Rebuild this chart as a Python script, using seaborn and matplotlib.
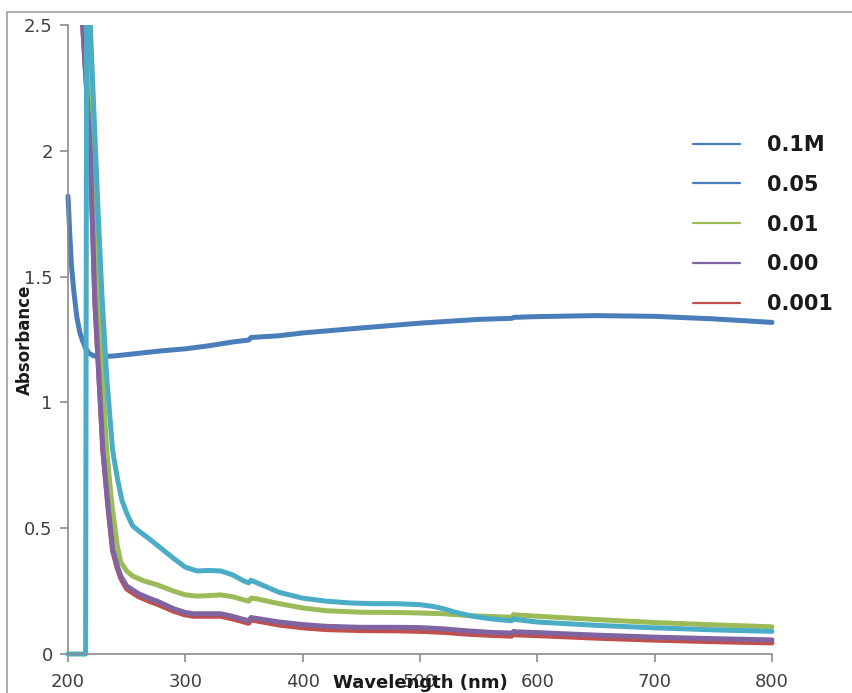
import matplotlib
matplotlib.use("Agg")
import matplotlib.pyplot as plt
import seaborn as sns
from matplotlib.lines import Line2D
from matplotlib.patches import Rectangle
from matplotlib.transforms import Bbox, TransformedBbox

# ---------------- data ----------------
wl_01 = [200, 201.5, 203, 205, 207.5, 210, 212, 215, 218, 222, 230, 240, 260, 280, 300,
         320, 340, 354, 356, 380, 400, 450, 500, 550, 578, 580, 600, 650, 700, 750, 800]
abs_01 = [1.82, 1.67, 1.54, 1.44, 1.34, 1.28, 1.25, 1.215, 1.195, 1.185, 1.182, 1.185, 1.195,
          1.205, 1.213, 1.225, 1.24, 1.248, 1.258, 1.265, 1.276, 1.296, 1.315, 1.33, 1.334,
          1.338, 1.341, 1.345, 1.342, 1.332, 1.318]

wl_005 = [200, 215, 216, 219, 223, 226, 229, 233, 238, 242, 246, 250, 255, 260, 270, 278, 290,
          300, 310, 320, 330, 340, 350, 354, 356, 360, 380, 400, 420, 440, 460, 480, 500, 510,
          520, 530, 545, 560, 578, 580, 582, 600, 650, 700, 750, 800]
abs_005 = [0, 0, 2.85, 2.5, 2.05, 1.72, 1.42, 1.1, 0.81, 0.7, 0.61, 0.56, 0.51, 0.49, 0.455,
           0.425, 0.38, 0.345, 0.33, 0.332, 0.33, 0.315, 0.29, 0.283, 0.293, 0.285, 0.245,
           0.222, 0.21, 0.203, 0.2, 0.2, 0.196, 0.19, 0.18, 0.166, 0.15, 0.14, 0.132, 0.14,
           0.137, 0.127, 0.114, 0.104, 0.096, 0.09]

wl_0001 = [214, 218, 221.7, 226, 229.5, 233, 237, 240, 242, 245, 250, 255, 265, 276, 290, 300,
           310, 320, 330, 340, 350, 354, 356, 360, 380, 400, 420, 450, 480, 500, 520, 540, 560,
           578, 580, 582, 600, 650, 700, 750, 800]
abs_0001 = [3.05, 2.5, 2.0, 1.41, 1.08, 0.81, 0.61, 0.5, 0.43, 0.365, 0.33, 0.31, 0.29, 0.275,
            0.25, 0.235, 0.23, 0.232, 0.235, 0.228, 0.215, 0.21, 0.222, 0.22, 0.2, 0.183, 0.172,
            0.166, 0.165, 0.163, 0.16, 0.153, 0.149, 0.146, 0.157, 0.155, 0.15, 0.137, 0.125,
            0.116, 0.108]

wl_000 = [208, 212.5, 219, 222.8, 229.7, 233.7, 235.7, 238, 242, 245, 250, 260, 270, 276, 290,
          300, 307, 320, 330, 340, 350, 354, 356, 360, 380, 400, 420, 450, 480, 500, 520, 540,
          560, 578, 580, 582, 600, 650, 700, 750, 800]
abs_000 = [2.85, 2.5, 2.0, 1.41, 0.81, 0.61, 0.52, 0.42, 0.35, 0.31, 0.27, 0.24, 0.22, 0.21,
           0.18, 0.165, 0.16, 0.16, 0.16, 0.15, 0.137, 0.132, 0.145, 0.142, 0.127, 0.117, 0.11,
           0.106, 0.106, 0.105, 0.1, 0.092, 0.086, 0.083, 0.09, 0.088, 0.085, 0.075, 0.067,
           0.061, 0.056]

wl_001m = [208, 212.5, 219, 222.8, 229.7, 233.7, 235.7, 238, 242, 245, 250, 260, 270, 276, 290,
           300, 307, 320, 330, 340, 350, 354, 356, 360, 380, 400, 420, 450, 480, 500, 520, 540,
           560, 578, 580, 582, 600, 650, 700, 750, 800]
abs_001m = [2.85, 2.5, 2.0, 1.41, 0.81, 0.6, 0.51, 0.41, 0.34, 0.3, 0.258, 0.228, 0.208, 0.198,
            0.17, 0.155, 0.15, 0.15, 0.15, 0.14, 0.127, 0.122, 0.135, 0.132, 0.115, 0.104, 0.097,
            0.093, 0.092, 0.09, 0.086, 0.079, 0.074, 0.071, 0.078, 0.076, 0.073, 0.063, 0.055,
            0.049, 0.044]

legend_labels = ["0.1M", "0.05", "0.01", "0.00", "0.001"]
xticks = [200, 300, 400, 500, 600, 700, 800]
xtick_labels = ["200", "300", "400", "500", "600", "700", "800"]
yticks = [0, 0.5, 1, 1.5, 2, 2.5]
ytick_labels = ["0", "0.5", "1", "1.5", "2", "2.5"]

# colours
c_blue = "#4A7EBB"
c_aqua = "#4BACC6"
c_green = "#9BBB59"
c_purple = "#8064A2"
c_red = "#C0504D"

# ---------------- figure ----------------
sns.set_theme(style="ticks")
plt.rcParams["font.family"] = ["DejaVu Sans"]

W, H = 853, 693
fig = plt.figure(figsize=(W / 100, H / 100), dpi=100)
ax = fig.add_axes([68 / W, 1 - 654 / H, (772 - 68) / W, (654 - 25) / H])

series = [
    (wl_01, abs_01, c_blue),
    (wl_001m, abs_001m, c_red),
    (wl_0001, abs_0001, c_green),
    (wl_000, abs_000, c_purple),
    (wl_005, abs_005, c_aqua),
]
clip = TransformedBbox(Bbox([[-0.01, -0.02], [1.01, 1.0]]), ax.transAxes)
for x, y, c in series:
    n_before = len(ax.lines)
    sns.lineplot(x=x, y=y, color=c, linewidth=3.6, ax=ax, estimator=None,
                 sort=False, legend=False)
    for ln in ax.lines[n_before:]:
        ln.set_clip_box(clip)
        ln.set_solid_joinstyle("round")

ax.set_xlim(200, 800)
ax.set_ylim(0, 2.5)
ax.set_xticks(xticks)
ax.set_xticklabels(xtick_labels)
ax.set_yticks(yticks)
ax.set_yticklabels(ytick_labels)
ax.set_xlabel("")
ax.set_ylabel("")

for side in ["top", "right"]:
    ax.spines[side].set_visible(False)
for side in ["left", "bottom"]:
    ax.spines[side].set_color("#8c8c8c")
    ax.spines[side].set_linewidth(1.2)

ax.tick_params(axis="both", direction="out", length=6, width=1.2, color="#8c8c8c",
               labelsize=13, labelcolor="#404040")
ax.tick_params(axis="y", pad=5)
ax.tick_params(axis="x", pad=8)

fig.text(420 / W, 1 - 683 / H, "Wavelength (nm)", ha="center", va="center",
         fontsize=13, fontweight="bold", color="#1a1a1a")
fig.text(25 / W, 1 - 340 / H, "Absorbance", ha="center", va="center", rotation=90,
         fontsize=12, fontweight="bold", color="#1a1a1a")

handles = [
    Line2D([], [], color=c_blue, lw=1.6),
    Line2D([], [], color=c_blue, lw=1.6),
    Line2D([], [], color=c_green, lw=1.6),
    Line2D([], [], color=c_purple, lw=1.6),
    Line2D([], [], color=c_red, lw=1.6),
]
leg = ax.legend(handles, legend_labels, loc="upper left",
                bbox_to_anchor=(693 / W, 1 - 135 / H), bbox_transform=fig.transFigure,
                frameon=False, borderpad=0, borderaxespad=0, handlelength=2.26,
                handletextpad=1.3, labelspacing=0.95,
                prop={"size": 15, "weight": "bold"})
for t in leg.get_texts():
    t.set_color("#1a1a1a")

# outer chart frame (only top/left edges fall inside the image)
fig.add_artist(Rectangle((7 / W, -0.1), 1.2, 1.1 - 12 / H, transform=fig.transFigure,
                         fill=False, edgecolor="#a6a6a6", linewidth=1.3))

fig.savefig("out.png", dpi=100)
